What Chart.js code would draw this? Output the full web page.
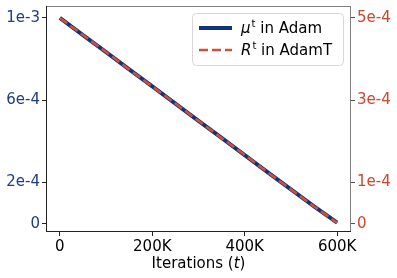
<!DOCTYPE html>
<html>
<head>
<meta charset="utf-8">
<script src="https://cdn.jsdelivr.net/npm/chart.js@4"></script>
<style>
  html, body { margin: 0; padding: 0; background: #fff; overflow: hidden; }
  #wrap { width: 397px; height: 283px; margin-top: -5px; }
</style>
</head>
<body>
<div id="wrap"><canvas id="lrChart"></canvas></div>
<script>
const iterations = [0, 50000, 100000, 150000, 200000, 250000, 300000, 350000, 400000, 450000, 500000, 550000, 600000];
const muAdam = [1e-3, 9.17e-4, 8.34e-4, 7.5e-4, 6.67e-4, 5.84e-4, 5.0e-4, 4.17e-4, 3.34e-4, 2.5e-4, 1.67e-4, 0.84e-4, 0.05e-4];
const rAdamT = [5e-4, 4.585e-4, 4.17e-4, 3.75e-4, 3.335e-4, 2.92e-4, 2.5e-4, 2.085e-4, 1.67e-4, 1.25e-4, 0.835e-4, 0.42e-4, 0.025e-4];
const xTicks = [0, 200000, 400000, 600000];
const leftTicks = [0, 2e-4, 6e-4, 1e-3];
const rightTicks = [0, 1e-4, 3e-4, 5e-4];
const seriesNames = [["\u03bc", "t", " in Adam"], ["R", "t", " in AdamT"]];
const xTitle = ["Iterations (", "t", ")"];

const blue = "#12337a";
const red = "#d0503a";
const blueText = "#1f3c87";
const redText = "#d4432b";
const font = "DejaVu Sans";
const shift = 5; // canvas is moved up by this much

function fmtSci(v) {
  if (v === 0) return "0";
  const e = Math.floor(Math.log10(v) + 1e-9);
  const m = Math.round(v / Math.pow(10, e));
  return m + "e" + e;
}

const toPoints = (ys) => iterations.map((x, i) => ({ x: x, y: ys[i] }));

// frame, legend and x title drawn by hand to get the matplotlib look
const framePlugin = {
  id: "frame",
  afterDraw(chart) {
    const { ctx, chartArea: a } = chart;
    ctx.save();
    ctx.lineWidth = 1;
    ctx.strokeStyle = "#808080";
    ctx.beginPath();
    ctx.moveTo(a.left, a.top + 0.5); ctx.lineTo(a.right, a.top + 0.5);
    ctx.moveTo(a.right - 0.5, a.top); ctx.lineTo(a.right - 0.5, a.bottom);
    ctx.stroke();
    ctx.strokeStyle = "#222";
    ctx.beginPath();
    ctx.moveTo(a.left + 0.5, a.top); ctx.lineTo(a.left + 0.5, a.bottom);
    ctx.moveTo(a.left, a.bottom - 0.5); ctx.lineTo(a.right, a.bottom - 0.5);
    ctx.stroke();

    // x title with italic t
    ctx.fillStyle = "#000";
    ctx.textBaseline = "middle";
    ctx.textAlign = "left";
    const fonts = ["15px '" + font + "'", "italic 15px '" + font + "'", "15px '" + font + "'"];
    let w = 0;
    xTitle.forEach((s, i) => { ctx.font = fonts[i]; w += ctx.measureText(s).width; });
    let tx = (a.left + a.right) / 2 - w / 2;
    xTitle.forEach((s, i) => {
      ctx.font = fonts[i];
      ctx.fillText(s, tx, 264 + shift);
      tx += ctx.measureText(s).width;
    });

    // legend box
    const bx = 192, by = 13 + shift, bw = 151, bh = 52, r = 4;
    ctx.fillStyle = "rgba(255,255,255,0.85)";
    ctx.strokeStyle = "#d6d6d6";
    ctx.lineWidth = 1;
    ctx.beginPath();
    ctx.roundRect(bx + 0.5, by + 0.5, bw, bh, r);
    ctx.fill();
    ctx.stroke();

    const rows = [by + 15, by + 37];
    chart.data.datasets.forEach((ds, i) => {
      const y = rows[i];
      ctx.beginPath();
      ctx.lineWidth = ds.borderWidth;
      ctx.strokeStyle = ds.borderColor;
      ctx.setLineDash(ds.borderDash || []);
      ctx.moveTo(bx + 7, y); ctx.lineTo(bx + 40, y);
      ctx.stroke();
      ctx.setLineDash([]);
      const parts = seriesNames[i];
      let px = bx + 49;
      ctx.fillStyle = "#000";
      ctx.font = "italic 15px '" + font + "'";
      ctx.fillText(parts[0], px, y + 1);
      px += ctx.measureText(parts[0]).width + 1;
      ctx.font = "10px '" + font + "'";
      ctx.fillText(parts[1], px, y - 4);
      px += ctx.measureText(parts[1]).width;
      ctx.font = "15px '" + font + "'";
      ctx.fillText(parts[2], px, y + 1);
    });
    ctx.restore();
  }
};

const ctx = document.getElementById("lrChart").getContext("2d");

const lrChart = new Chart(ctx, {
  type: "line",
  data: {
    datasets: [{
      label: "mu^t in Adam",
      data: toPoints(muAdam),
      yAxisID: "y",
      order: 2,
      borderColor: blue,
      borderWidth: 4,
      pointRadius: 0,
      fill: false,
      tension: 0,
    }, {
      label: "R^t in AdamT",
      data: toPoints(rAdamT),
      yAxisID: "y1",
      order: 1,
      borderColor: red,
      borderWidth: 2.5,
      borderDash: [9, 4],
      pointRadius: 0,
      fill: false,
      tension: 0,
    }],
  },
  options: {
    responsive: true,
    maintainAspectRatio: false,
    animation: false,
    layout: { padding: { top: 0, left: 0, right: 0, bottom: 0 } },
    plugins: {
      legend: { display: false },
      tooltip: { enabled: false },
    },
    scales: {
      x: {
        type: "linear",
        min: -30000,
        max: 630000,
        afterBuildTicks: (s) => { s.ticks = xTicks.map(v => ({ value: v })); },
        afterFit: (s) => { s.height = 46; },
        grid: { drawOnChartArea: false, tickLength: 4, color: "#222" },
        border: { display: false },
        ticks: {
          color: "#000",
          font: { family: font, size: 15 },
          padding: 2,
          maxRotation: 0,
          callback: (v) => v === 0 ? "0" : (v / 1000) + "K",
        },
      },
      y: {
        position: "left",
        min: -4e-5,
        max: 1.058e-3,
        afterBuildTicks: (s) => { s.ticks = leftTicks.map(v => ({ value: v })); },
        afterFit: (s) => { s.width = 46; },
        grid: { drawOnChartArea: false, tickLength: 4, color: "#222" },
        border: { display: false },
        ticks: {
          color: blueText,
          font: { family: font, size: 15 },
          padding: 2,
          callback: (v) => fmtSci(v),
        },
      },
      y1: {
        position: "right",
        min: -2e-5,
        max: 5.29e-4,
        afterBuildTicks: (s) => { s.ticks = rightTicks.map(v => ({ value: v })); },
        afterFit: (s) => { s.width = 46; },
        grid: { drawOnChartArea: false, tickLength: 4, color: "#555" },
        border: { display: false },
        ticks: {
          color: redText,
          font: { family: font, size: 15 },
          padding: 2,
          callback: (v) => fmtSci(v),
        },
      },
    },
  },
  plugins: [framePlugin],
});
</script>
</body>
</html>
